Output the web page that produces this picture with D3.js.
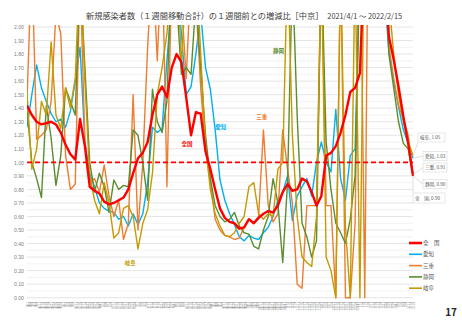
<!DOCTYPE html>
<html>
<head>
<meta charset="utf-8">
<script src="https://cdn.jsdelivr.net/npm/d3@7"></script>
<style>
  body { margin: 0; background: #fff; }
  text { font-family: "Noto Sans CJK JP", "Noto Sans", sans-serif; }
</style>
</head>
<body>
<div id="chart"></div>
<script>
/* 1-week ratio of new cases, Chukyo region */

// sample dates (every 4 days)
const dates = ["2021-04-01","2021-04-05","2021-04-09","2021-04-13","2021-04-17","2021-04-21","2021-04-25","2021-04-29",
  "2021-05-03","2021-05-07","2021-05-11","2021-05-15","2021-05-19","2021-05-23","2021-05-27","2021-05-31",
  "2021-06-04","2021-06-08","2021-06-12","2021-06-16","2021-06-20","2021-06-24","2021-06-28",
  "2021-07-02","2021-07-06","2021-07-10","2021-07-14","2021-07-18","2021-07-22","2021-07-26","2021-07-30",
  "2021-08-03","2021-08-07","2021-08-11","2021-08-15","2021-08-19","2021-08-23","2021-08-27","2021-08-31",
  "2021-09-04","2021-09-08","2021-09-12","2021-09-16","2021-09-20","2021-09-24","2021-09-28",
  "2021-10-02","2021-10-06","2021-10-10","2021-10-14","2021-10-18","2021-10-22","2021-10-26","2021-10-30",
  "2021-11-03","2021-11-07","2021-11-11","2021-11-15","2021-11-19","2021-11-23","2021-11-27",
  "2021-12-01","2021-12-05","2021-12-09","2021-12-13","2021-12-17","2021-12-21","2021-12-25","2021-12-29",
  "2022-01-02","2022-01-06","2022-01-10","2022-01-14","2022-01-18","2022-01-22","2022-01-26","2022-01-30",
  "2022-02-03","2022-02-07","2022-02-11","2022-02-15"];

const zenkoku = [1.42,1.35,1.30,1.28,1.29,1.30,1.28,1.22,1.13,1.06,
  1.02,1.32,1.12,0.82,0.79,0.77,0.71,0.69,0.70,0.72,
  0.74,0.80,0.92,1.03,1.07,1.15,1.35,1.50,1.56,1.48,
  1.70,1.80,1.74,1.48,1.20,1.37,1.36,1.08,0.95,0.80,
  0.66,0.59,0.56,0.55,0.51,0.52,0.58,0.55,0.59,0.62,
  0.64,0.63,0.68,0.78,0.84,0.79,0.80,0.88,0.86,0.78,
  0.68,0.75,1.05,1.07,1.12,1.22,1.35,1.52,1.55,1.66,
  2.6,4.5,5.0,4.0,2.6,1.93,1.76,1.56,1.34,1.14,0.90];

const aichi = [1.26,1.50,1.72,1.55,1.45,1.36,1.30,1.32,1.26,1.38,
  1.60,1.85,1.15,0.92,0.82,0.70,0.66,0.64,0.63,0.58,
  0.60,0.53,0.62,0.54,0.62,0.85,1.26,1.22,1.25,1.75,
  2.2,2.4,1.95,1.50,1.56,1.80,2.1,1.70,1.54,1.24,
  0.87,0.72,0.62,0.54,0.45,0.42,0.46,0.44,0.43,0.48,
  0.52,0.60,0.72,0.78,0.90,0.57,0.75,0.82,0.88,0.75,
  1.00,1.15,1.00,0.93,1.39,0.88,0.72,1.05,1.10,2.5,
  3.0,4.0,5.0,4.5,2.3,1.82,1.60,1.41,1.24,1.14,1.03];

const mie = [1.46,2.5,1.17,1.20,1.24,1.45,2.1,1.95,1.05,0.80,
  0.84,2.4,1.15,0.85,0.88,0.78,0.98,0.75,0.60,0.72,
  0.43,0.55,1.50,0.50,1.00,1.85,2.5,1.75,2.6,0.82,
  2.4,2.8,2.2,1.62,2.4,2.2,1.55,1.10,0.86,0.58,
  0.50,0.46,0.45,0.43,0.44,0.52,0.58,0.55,0.60,1.24,
  0.68,0.56,0.62,1.24,0.95,0.70,0.10,0.07,0.68,0.68,
  0.68,2.5,0.68,0.68,0,2.5,0,0,0.55,3.0,
  0,4.0,5.0,5.0,2.5,1.86,1.62,1.42,1.32,1.20,0.91];

const shizuoka = [1.39,1.00,0.88,0.74,1.42,1.18,0.83,1.05,1.55,1.45,
  1.35,2.4,1.70,1.00,0.78,0.92,0.82,0.63,0.87,0.80,
  0.83,0.82,1.24,1.20,1.00,0.72,1.54,1.30,1.22,1.45,
  2.5,2.2,1.65,1.70,1.65,2.2,1.70,1.20,0.88,0.68,
  0.60,0.56,0.58,0.63,0.53,0.48,0.47,0.38,0.36,0.50,
  0.60,0.88,0.70,0.26,0.85,2.4,1.34,0.55,0.45,0.30,
  0.42,2.5,1.15,0.80,0.55,0.48,0.40,0.58,0.90,2.5,
  3.0,4.0,5.0,4.0,2.5,1.80,1.55,1.30,1.14,1.10,0.90];

const gifu = [1.51,0.95,1.10,1.45,1.35,1.89,1.35,1.25,1.55,1.40,
  1.62,2.5,1.60,0.90,0.72,0.62,0.85,0.70,0.44,0.48,
  0.66,0.68,0.60,0.36,0.55,0.65,0.92,1.50,1.70,1.95,
  2.4,2.6,1.70,2.4,2.2,2.5,1.80,1.12,0.80,0.62,
  0.53,0.46,0.45,0.48,0.55,0.60,0.82,0.85,0.62,0.58,
  0.62,0.60,0.95,1.00,2.5,1.20,0.60,0.30,0.26,0.23,
  0.60,2.5,0.30,0.20,0,2.5,0.52,0,2.5,0,
  3.0,4.0,5.0,5.0,2.8,2.2,1.80,1.50,1.30,1.15,1.05];

const seriesNames = ["全　国", "愛知", "三重", "静岡", "岐阜"];
const seriesColors = ["#ff0000", "#00b0f0", "#ed7d31", "#5b8c2f", "#c49a00"];
const yTicks = [0,0.1,0.2,0.3,0.4,0.5,0.6,0.7,0.8,0.9,1.0,1.1,1.2,1.3,1.4,1.5,1.6,1.7,1.8,1.9,2.0];

const width = 462, height = 320,
    margin = ({top: 27, right: 49, bottom: 22, left: 27});

const parse = d3.timeParse("%Y-%m-%d");
const days = dates.map(parse);
const series = [aichi, mie, shizuoka, gifu, zenkoku];   // red drawn last
const order = [1, 2, 3, 4, 0];

let svg = d3.select("#chart")
    .append("svg")
    .attr("width", width)
    .attr("height", height)
    .attr("viewBox", [0, 0, width, height]);

let x = d3.scaleTime()
    .domain([days[0], days[days.length - 1]])
    .range([margin.left, width - margin.right]);

let y = d3.scaleLinear()
    .domain([0, 2])
    .range([height - margin.bottom - 0.3, margin.top]);

// title
let title = svg.append("text")
    .attr("x", 86).attr("y", 19)
    .attr("fill", "#404040");
title.append("tspan").attr("font-size", "8.2px")
    .text("新規感染者数（１週間移動合計）の１週間前との増減比［中京］");
title.append("tspan").attr("font-size", "7.3px").attr("dx", 4)
    .text("2021/4/1 ～ 2022/2/15");

// grid lines every 0.05
svg.append("g")
    .selectAll("line")
    .data(d3.range(0, 41).map(i => i * 0.05))
    .join("line")
    .attr("x1", margin.left).attr("x2", width - margin.right)
    .attr("y1", d => y(d)).attr("y2", d => y(d))
    .attr("stroke", d => Math.round(d * 100) % 10 === 0 ? "#d9d9d9" : "#ececec")
    .attr("stroke-width", 0.7);

// y axis
svg.append("g")
    .attr("transform", `translate(${margin.left},0)`)
    .call(d3.axisLeft(y).tickValues(yTicks).tickFormat(d3.format(".2f")).tickSize(0).tickPadding(3))
    .call(g => g.select(".domain").remove())
    .call(g => g.selectAll("text")
        .attr("font-size", "5.2px")
        .attr("fill", "#7f7f7f")
        .style("font-family", "'Liberation Sans', sans-serif"));

// x axis: tiny rotated date labels
svg.append("g")
    .attr("transform", `translate(0,${height - margin.bottom + 1})`)
    .call(d3.axisBottom(x).ticks(d3.timeDay.every(2)).tickFormat(d3.timeFormat("%-m/%-d")).tickSize(0))
    .call(g => g.select(".domain").remove())
    .call(g => g.selectAll("text")
        .attr("font-size", "3.3px")
        .attr("fill", "#8a8a8a")
        .attr("text-anchor", "end")
        .attr("transform", "rotate(-90)")
        .attr("dx", "-2")
        .attr("dy", "0.35em")
        .attr("y", 0).attr("x", -1));

// clip lines to plot area
svg.append("clipPath").attr("id", "plot")
    .append("rect")
    .attr("x", margin.left).attr("y", margin.top - 2)
    .attr("width", width - margin.left - margin.right + 1)
    .attr("height", height - margin.top - margin.bottom + 4);

const line = d3.line()
    .x((d, i) => x(days[i]))
    .y(d => y(d));

let lines = svg.append("g").attr("clip-path", "url(#plot)");

series.forEach((s, k) => {
    const c = order[k];
    lines.append("path")
        .datum(s)
        .attr("fill", "none")
        .attr("stroke", seriesColors[c])
        .attr("stroke-width", c === 0 ? 2.4 : 1.4)
        .attr("stroke-linejoin", "round")
        .attr("d", line);
});

// reference line at 1.00
svg.append("line")
    .attr("x1", margin.left).attr("x2", width - margin.right)
    .attr("y1", y(1)).attr("y2", y(1))
    .attr("stroke", "#ff0000")
    .attr("stroke-width", 1.6)
    .attr("stroke-dasharray", "5,3");

// in-chart series labels
const inLabels = [
    {t: "全国", c: 0, d: "2021-08-07", v: 1.12},
    {t: "愛知", c: 1, d: "2021-09-04", v: 1.25},
    {t: "三重", c: 2, d: "2021-10-08", v: 1.32},
    {t: "静岡", c: 3, d: "2021-10-22", v: 1.81},
    {t: "岐阜", c: 4, d: "2021-06-21", v: 0.24}
];
svg.append("g")
    .selectAll("text")
    .data(inLabels)
    .join("text")
    .attr("x", d => x(parse(d.d)))
    .attr("y", d => y(d.v))
    .attr("fill", d => seriesColors[d.c])
    .attr("font-size", "5.5px")
    .attr("font-weight", "bold")
    .text(d => d.t);

// end value callouts
const last = days.length - 1;
const endVals = [zenkoku[last], aichi[last], mie[last], shizuoka[last], gifu[last]];
const boxes = [
    {c: 4, bx: 418, by: 133, w: 27},
    {c: 1, bx: 423, by: 151.5, w: 24},
    {c: 2, bx: 423, by: 163, w: 24},
    {c: 3, bx: 423, by: 179.5, w: 24},
    {c: 0, bx: 413, by: 193, w: 32}
];
let call = svg.append("g");
boxes.forEach(b => {
    const px = x(days[last]), py = y(endVals[b.c]);
    call.append("line")
        .attr("x1", px).attr("y1", py)
        .attr("x2", b.bx).attr("y2", b.by + (b.c === 4 ? 9.5 : b.c === 0 ? 0 : 4.5))
        .attr("stroke", "#bfbfbf").attr("stroke-width", 0.5);
    call.append("rect")
        .attr("x", b.bx).attr("y", b.by)
        .attr("width", b.w).attr("height", b.c === 0 ? 10 : 9)
        .attr("fill", "#fff")
        .attr("stroke", "#d0d0d0").attr("stroke-width", 0.5);
    call.append("text")
        .attr("x", b.bx + 2).attr("y", b.by + (b.c === 0 ? 6.8 : 6.3))
        .attr("font-size", "4.6px")
        .attr("fill", "#595959")
        .text(seriesNames[b.c] + ", " + endVals[b.c].toFixed(2));
});

// legend
let legend = svg.append("g")
    .selectAll("g")
    .data(seriesNames)
    .join("g")
    .attr("transform", (d, i) => `translate(409,${243 + i * 11.3})`);

legend.append("line")
    .attr("x1", 0).attr("x2", 13)
    .attr("stroke", (d, i) => seriesColors[i])
    .attr("stroke-width", (d, i) => i === 0 ? 2.6 : 1.6);

legend.append("text")
    .attr("x", 14).attr("y", 2)
    .attr("font-size", "5.5px")
    .attr("fill", "#595959")
    .text(d => d);

// page number
svg.append("text")
    .attr("x", 457).attr("y", 316)
    .attr("text-anchor", "end")
    .attr("font-size", "10px")
    .attr("font-weight", "bold")
    .attr("fill", "#262626")
    .text("17");
</script>
</body>
</html>
